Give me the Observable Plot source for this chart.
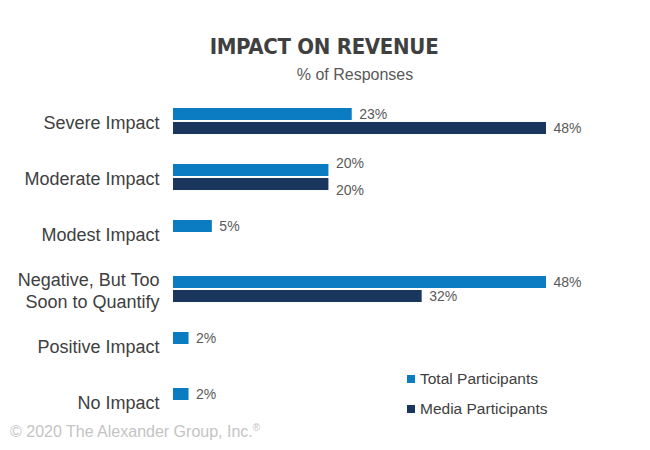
<!DOCTYPE html>
<html>
<head>
<meta charset="utf-8">
<script src="https://cdn.jsdelivr.net/npm/d3@7"></script>
<script src="https://cdn.jsdelivr.net/npm/@observablehq/plot@0.6"></script>
<style>
  html, body { margin: 0; padding: 0; background: #fff; }
  #wrap { position: relative; width: 650px; height: 450px; overflow: hidden; font-family: "Liberation Sans", Arial, sans-serif; }
  #head { position: relative; height: 95px; }
  #title { position: absolute; left: 0; width: 648px; top: 34px; text-align: center; font-family: "Liberation Sans Narrow", "DejaVu Sans Condensed", "Liberation Sans", sans-serif; font-weight: bold; font-size: 22px; color: #404040; letter-spacing: -0.3px; }
  #subtitle { position: absolute; left: 0; width: 710px; top: 66px; text-align: center; font-size: 16px; color: #595959; }
  #legend { position: absolute; left: 407px; top: 370px; }
  #footer { position: absolute; left: 10px; top: 422px; font-size: 16px; color: #c4c4c4; }
  #footer sup { font-size: 10px; }
  .lg-swatch { padding-bottom: 12px !important; font-size: 15.5px; color: #404040; }
  .lg-swatch svg { margin-right: 5px !important; }
</style>
</head>
<body>
<div id="wrap">
  <div id="head">
    <div id="title">IMPACT ON REVENUE</div>
    <div id="subtitle">% of Responses</div>
  </div>
  <div id="chart"></div>
  <div id="legend"></div>
  <div id="footer">© 2020 The Alexander Group, Inc.<sup>®</sup></div>
</div>
<script>
const categories = [
  "Severe Impact",
  "Moderate Impact",
  "Modest Impact",
  "Negative, But Too\nSoon to Quantify",
  "Positive Impact",
  "No Impact"
];
const series = ["Total Participants", "Media Participants"];
const totalValues = [23, 20, 5, 48, 2, 2];
const mediaValues = [48, 20, null, 32, null, null];
const colors = ["#0b7cc1", "#1b365e"];

const rows = [];
categories.forEach((c, i) => {
  const tied = totalValues[i] != null && totalValues[i] === mediaValues[i];
  if (totalValues[i] != null) rows.push({category: c, series: series[0], value: totalValues[i], tied});
  if (mediaValues[i] != null) rows.push({category: c, series: series[1], value: mediaValues[i], tied});
});

const labelFont = "'Liberation Sans', Arial, sans-serif";
const textOpts = {x: "value", y: "series", text: d => d.value + "%", dx: 7, textAnchor: "start", fill: "#595959", fontSize: 14};

const marks = [
  Plot.barX(rows, {x: "value", y: "series", fill: "series"}),
  Plot.text(rows, {...textOpts, filter: d => !d.tied}),
  // labels of equal-length bars are pushed apart so they do not collide
  Plot.text(rows, {...textOpts, filter: d => d.tied && d.series === series[0], dy: -7}),
  Plot.text(rows, {...textOpts, filter: d => d.tied && d.series === series[1], dy: 6})
];
const hasAxisMarks = typeof Plot.axisFy === "function";
if (hasAxisMarks) {
  marks.unshift(Plot.axisFy({anchor: "left", label: null, tickSize: 0, tickPadding: 14, fontSize: 18, lineHeight: 1.22, fill: "#404040"}));
}

const chart = Plot.plot({
  width: 650,
  height: 355,
  marginLeft: 173,
  marginRight: 104,
  marginTop: 10,
  marginBottom: 33,
  style: {fontFamily: labelFont, fontSize: "18px", color: "#404040", background: "#fff"},
  facet: {data: rows, y: "category"},
  x: {domain: [0, 48], axis: null},
  y: {domain: series, axis: null, paddingInner: 0.12, paddingOuter: 0},
  fy: hasAxisMarks
    ? {domain: categories, paddingInner: 0.523, paddingOuter: 0}
    : {domain: categories, axis: "left", label: null, tickSize: 0, tickPadding: 14, paddingInner: 0.523, paddingOuter: 0},
  color: {domain: series, range: colors},
  marks
});
document.getElementById("chart").appendChild(chart);

const legend = Plot.legend({
  color: {domain: series, range: colors},
  legend: "swatches",
  columns: 1,
  swatchSize: 8,
  className: "lg",
  style: {fontFamily: labelFont, fontSize: "15.5px", color: "#404040"}
});
document.getElementById("legend").appendChild(legend);
</script>
</body>
</html>
